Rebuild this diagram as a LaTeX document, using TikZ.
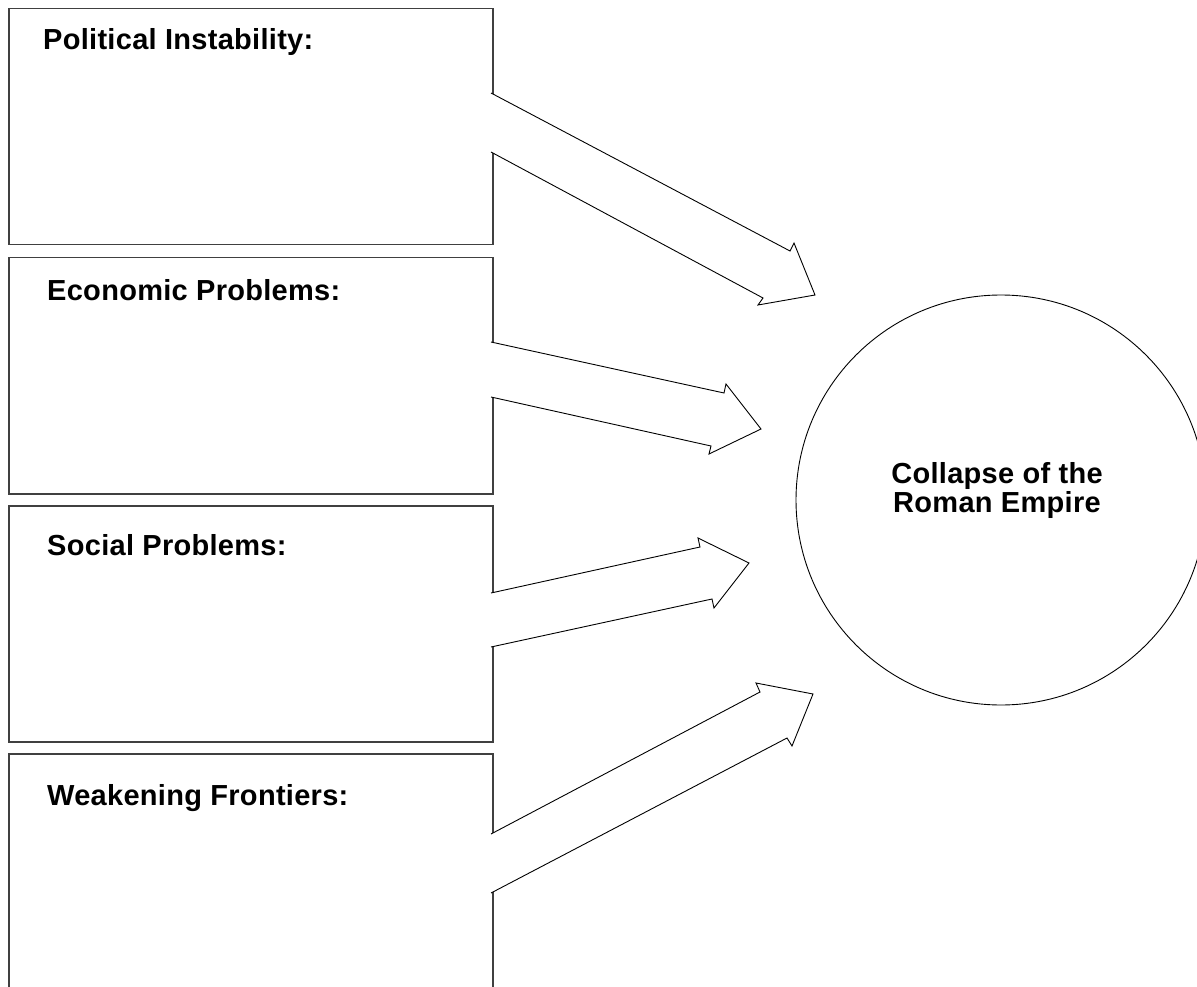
\documentclass[tikz,border=0pt]{standalone}
\usepackage{fontspec}
\setmainfont{Liberation Sans}[LetterSpace=1]
\definecolor{boxline}{gray}{0.25}

\begin{document}
\begin{tikzpicture}[x=1pt,y=-1pt,
  causebox/.style={draw=boxline,line width=1.5pt,minimum width=484pt,
    minimum height=236pt,anchor=north west,inner sep=0pt},
  heading/.style={anchor=base west,inner sep=0pt,
    font=\fontsize{29}{29}\selectfont\bfseries},
  shaft/.style={fill=white,draw=black,line width=0.9pt,line join=miter}]
   \useasboundingbox (0,0) rectangle (1197,987);
   \clip (0,0) rectangle (1197,987);
   % the four cause boxes
   \node[causebox] (pol) at (8,8)   {};
   \node[causebox] (eco) at (8,257) {};
   \node[causebox] (soc) at (8,505) {};
   \node[causebox] (fro) at (8,753) {};
   \node[heading] (polhead) at (43,50)  {Political Instability:};
   \node[heading] (ecohead) at (47,300) {Economic Problems:};
   \node[heading] (sochead) at (47,555) {Social Problems:};
   \node[heading] (frohead) at (47,805) {Weakening Frontiers:};
   % the effect
   \node[draw,circle,minimum size=410pt,inner sep=0pt,line width=0.9pt]
     (rome) at (1001,500) {};
   \node[heading,anchor=center,align=center] (romehead) at (997,490)
     {Collapse of the\\Roman Empire};
   % block arrows, open on the box side
   \filldraw[shaft] (491,93) -- (790,251) -- (794,243) -- (815,295)
     -- (758,305) -- (763,298) -- (491,152);
   \filldraw[shaft] (491,342) -- (724,393) -- (726,384) -- (761,429)
     -- (709,454) -- (711,446) -- (491,397);
   \filldraw[shaft] (491,593) -- (700,547) -- (698,538) -- (749,563)
     -- (714,608) -- (712,599) -- (491,647);
   \filldraw[shaft] (491,834) -- (760,692) -- (756,683) -- (813,694)
     -- (792,746) -- (787,738) -- (491,893);
\end{tikzpicture}
\end{document}
